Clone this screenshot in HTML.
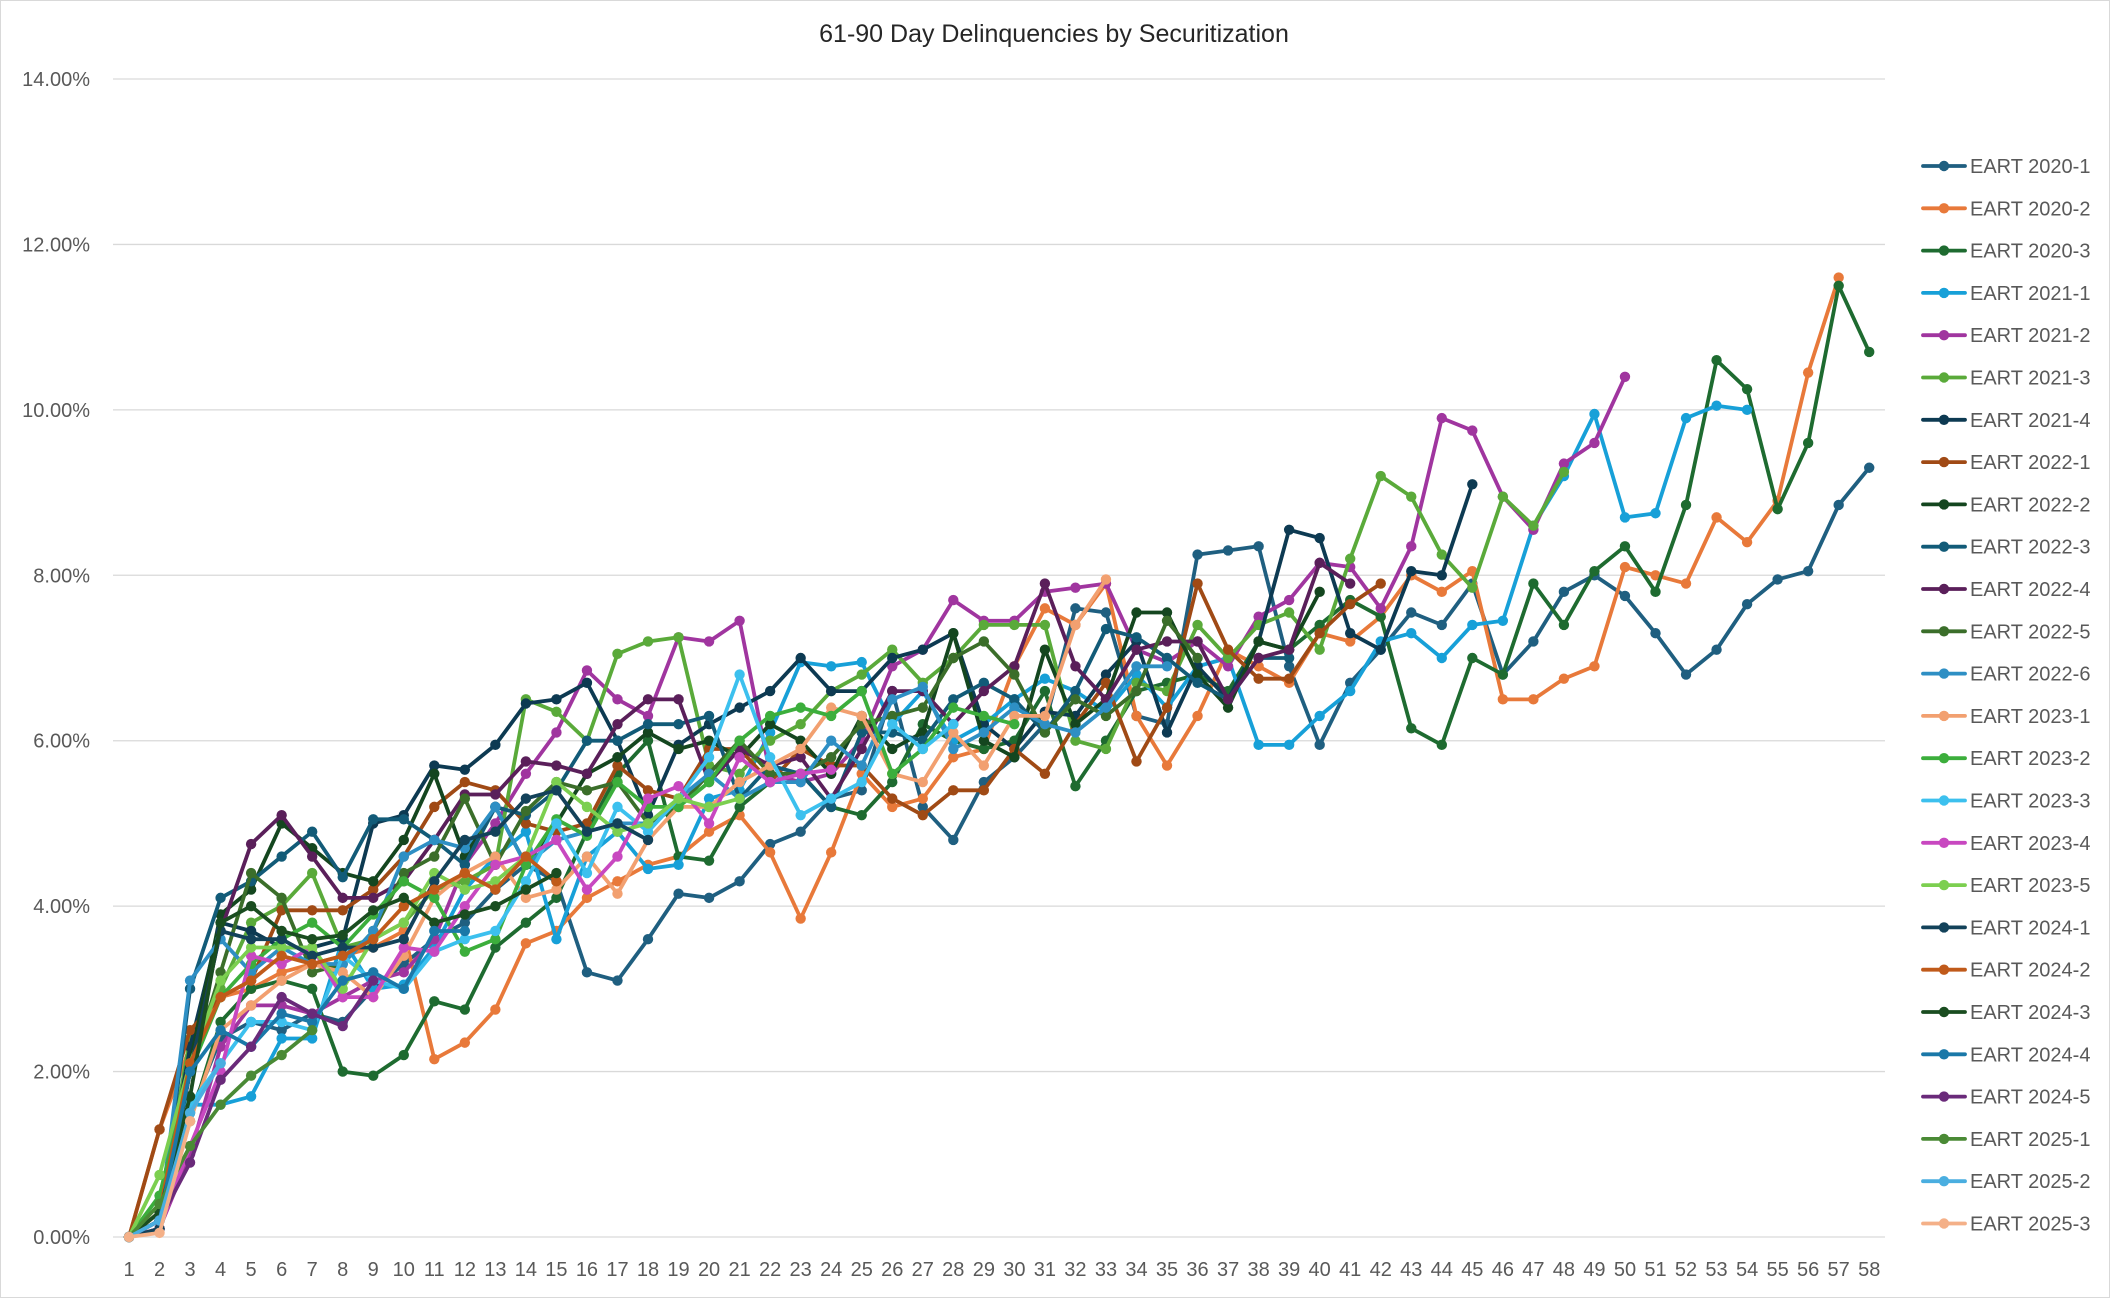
<!DOCTYPE html>
<html><head><meta charset="utf-8">
<style>
html,body{margin:0;padding:0;background:#fff;}
body{width:2111px;height:1299px;overflow:hidden;font-family:"Liberation Sans",sans-serif;}
svg text{font-family:"Liberation Sans",sans-serif;}
</style></head>
<body>
<svg id="chart" width="2111" height="1299" xmlns="http://www.w3.org/2000/svg">
<rect x="0.5" y="0.5" width="2109" height="1297" fill="#fff" stroke="#d9d9d9"/>
<text x="1054" y="42" text-anchor="middle" font-size="25" fill="#262626">61-90 Day Delinquencies by Securitization</text>
<g id="grid"></g>
<g id="yaxis"></g>
<g id="xaxis"></g>
<g id="series"></g>
<g id="legend"></g>
</svg>
<script>
const xLabels = Array.from({length:58},(_,i)=>String(i+1));
const yTicks = [0,2,4,6,8,10,12,14];
const yTickLabels = ["0.00%","2.00%","4.00%","6.00%","8.00%","10.00%","12.00%","14.00%"];
const seriesNames = ["EART 2020-1","EART 2020-2","EART 2020-3","EART 2021-1","EART 2021-2","EART 2021-3","EART 2021-4","EART 2022-1","EART 2022-2","EART 2022-3","EART 2022-4","EART 2022-5","EART 2022-6","EART 2023-1","EART 2023-2","EART 2023-3","EART 2023-4","EART 2023-5","EART 2024-1","EART 2024-2","EART 2024-3","EART 2024-4","EART 2024-5","EART 2025-1","EART 2025-2","EART 2025-3"];
const seriesColors = ["#1f5f80","#e8793a","#1e6b30","#17a0d8","#a0359f","#5aaa3a","#0d3a52","#a04a15","#14461f","#125b78","#5a1f5a","#3b6e2a","#2e8fc4","#f2a070","#3cae3c","#3cc0ee","#c848c0","#7ccf50","#13425a","#c05a1a","#1a4d20","#1a78a8","#6a2a7a","#4a8a35","#4aaee0","#f4b088"];
const s2020_1 = [0,0.2,1.5,2.4,2.6,2.5,2.7,2.6,3.0,3.3,3.6,3.8,4.2,4.5,4.3,3.2,3.1,3.6,4.15,4.1,4.3,4.75,4.9,5.3,5.4,6.6,5.2,4.8,5.5,5.8,6.2,7.6,7.55,6.3,6.2,8.25,8.3,8.35,6.9,5.95,6.7,7.1,7.55,7.4,7.9,6.8,7.2,7.8,8.0,7.75,7.3,6.8,7.1,7.65,7.95,8.05,8.85,9.3];
const s2020_2 = [0,1.3,2.3,2.9,3.0,3.2,3.3,3.4,3.5,3.7,2.15,2.35,2.75,3.55,3.7,4.1,4.3,4.5,4.6,4.9,5.1,4.65,3.85,4.65,5.6,5.2,5.3,5.8,5.9,6.9,7.6,7.4,7.9,6.3,5.7,6.3,7.1,6.9,6.7,7.3,7.2,7.5,8.0,7.8,8.05,6.5,6.5,6.75,6.9,8.1,8.0,7.9,8.7,8.4,8.9,10.45,11.6];
const s2020_3 = [0,0.2,1.4,2.6,3.0,3.1,3.0,2.0,1.95,2.2,2.85,2.75,3.5,3.8,4.1,4.9,5.6,6.0,4.6,4.55,5.2,5.5,5.6,5.2,5.1,5.5,6.2,6.0,5.9,6.0,6.6,5.45,6.0,6.6,6.7,6.8,6.6,7.2,7.1,7.4,7.7,7.5,6.15,5.95,7.0,6.8,7.9,7.4,8.05,8.35,7.8,8.85,10.6,10.25,8.8,9.6,11.5,10.7];
const s2021_1 = [0,0.1,1.6,1.6,1.7,2.4,2.4,3.6,3.0,3.05,3.5,4.2,4.6,4.9,3.6,4.6,4.9,4.45,4.5,5.3,5.4,6.1,6.95,6.9,6.95,6.2,6.6,6.0,6.2,6.5,6.75,6.6,6.35,6.8,6.4,6.9,7.0,5.95,5.95,6.3,6.6,7.2,7.3,7.0,7.4,7.45,8.6,9.2,9.95,8.7,8.75,9.9,10.05,10.0];
const s2021_2 = [0,0.1,1.0,2.3,2.8,2.8,2.7,2.9,3.1,3.2,3.6,4.5,5.0,5.6,6.1,6.85,6.5,6.3,7.25,7.2,7.45,5.6,5.5,5.6,6.0,6.9,7.1,7.7,7.45,7.45,7.8,7.85,7.9,7.1,6.95,7.2,6.9,7.5,7.7,8.15,8.1,7.6,8.35,9.9,9.75,8.95,8.55,9.35,9.6,10.4];
const s2021_3 = [0,0.3,2.4,3.0,3.8,4.0,4.4,3.5,3.6,3.8,4.2,4.3,4.5,6.5,6.35,6.0,7.05,7.2,7.25,5.7,5.6,6.0,6.2,6.6,6.8,7.1,6.7,7.0,7.4,7.4,7.4,6.0,5.9,6.7,6.6,7.4,7.0,7.4,7.55,7.1,8.2,9.2,8.95,8.25,7.85,8.95,8.6,9.25];
const s2021_4 = [0,0.2,2.3,3.8,3.7,3.5,3.5,3.6,5.0,5.1,5.7,5.65,5.95,6.45,6.5,6.7,6.0,5.1,5.95,6.2,6.4,6.6,7.0,6.6,6.6,7.0,7.1,7.3,6.2,5.9,6.35,6.3,6.8,7.2,6.1,6.9,6.5,7.2,8.55,8.45,7.3,7.1,8.05,8.0,9.1];
const s2022_1 = [0,1.3,2.5,2.9,3.1,3.95,3.95,3.95,4.2,4.6,5.2,5.5,5.4,5.0,4.9,5.0,5.7,5.4,5.3,5.9,5.9,5.5,5.9,5.7,5.7,5.3,5.1,5.4,5.4,5.9,5.6,6.2,6.7,5.75,6.4,7.9,7.1,6.75,6.75,7.3,7.65,7.9];
const s2022_2 = [0,0.2,2.1,3.9,4.2,5.0,4.7,4.4,4.3,4.8,5.6,4.6,5.2,4.5,5.0,5.6,5.8,6.1,5.9,6.0,5.8,6.2,6.0,5.6,6.3,5.9,6.1,7.3,6.0,5.8,7.1,6.2,6.5,7.55,7.55,6.8,6.4,7.2,7.1,7.8];
const s2022_3 = [0,0.1,3.0,4.1,4.3,4.6,4.9,4.35,5.05,5.05,4.8,4.5,5.2,5.1,5.4,6.0,6.0,6.2,6.2,6.3,5.3,5.7,5.6,5.2,6.1,6.1,6.0,6.5,6.7,6.5,6.1,6.6,7.35,7.25,7.0,6.7,6.5,7.0,7.0];
const s2022_4 = [0,0.1,2.0,3.7,4.75,5.1,4.6,4.1,4.1,4.3,4.8,5.35,5.35,5.75,5.7,5.6,6.2,6.5,6.5,5.5,5.9,5.7,5.8,5.3,5.9,6.6,6.6,6.2,6.6,6.9,7.9,6.9,6.5,7.1,7.2,7.2,6.5,7.0,7.1,8.15,7.9];
const s2022_5 = [0,0.2,2.0,3.2,4.4,4.1,3.2,3.3,3.7,4.4,4.6,5.3,4.5,5.15,5.5,5.4,5.5,5.0,5.2,5.6,6.0,5.6,5.6,5.8,6.2,6.3,6.4,7.0,7.2,6.8,6.1,6.5,6.3,6.6,7.45,7.0];
const s2022_6 = [0,0.2,3.1,3.6,3.2,3.5,3.3,3.3,3.7,4.6,4.8,4.7,5.2,4.5,4.8,4.9,5.0,5.0,5.3,5.6,5.3,5.5,5.5,6.0,5.7,6.5,6.65,5.9,6.1,6.4,6.2,6.1,6.4,6.9,6.9];
const s2023_1 = [0,0.1,1.4,2.5,2.8,3.1,3.3,3.2,2.9,3.4,4.1,4.4,4.6,4.1,4.2,4.6,4.15,4.8,5.2,5.2,5.5,5.7,5.9,6.4,6.3,5.6,5.5,6.1,5.7,6.3,6.3,7.4,7.95];
const s2023_2 = [0,0.5,2.0,2.9,3.3,3.6,3.8,3.5,3.9,4.3,4.1,3.45,3.6,4.5,5.05,4.85,5.5,5.2,5.2,5.5,6.0,6.3,6.4,6.3,6.6,5.6,5.9,6.4,6.3,6.2];
const s2023_3 = [0,0.2,1.6,2.1,2.6,2.6,2.5,3.4,3.1,3.0,3.45,3.6,3.7,4.3,5.0,4.4,5.2,4.9,5.3,5.8,6.8,5.8,5.1,5.3,5.5,6.2,5.9,6.2];
const s2023_4 = [0,0.1,1.1,2.0,3.4,3.3,3.5,2.9,2.9,3.5,3.45,4.0,4.5,4.6,4.8,4.2,4.6,5.3,5.45,5.0,5.8,5.5,5.6,5.65];
const s2023_5 = [0,0.75,2.1,3.1,3.5,3.5,3.5,3.0,3.6,3.8,4.4,4.2,4.3,4.6,5.5,5.2,4.9,5.0,5.3,5.2,5.3];
const s2024_1 = [0,0.1,2.0,3.7,3.6,3.6,3.4,3.5,3.5,3.6,4.3,4.8,4.9,5.3,5.4,4.9,5.0,4.8];
const s2024_2 = [0,0.3,2.1,2.9,3.1,3.4,3.3,3.4,3.6,4.0,4.2,4.4,4.2,4.6,4.3];
const s2024_3 = [0,0.3,1.7,3.8,4.0,3.7,3.6,3.65,3.95,4.1,3.8,3.9,4.0,4.2,4.4];
const s2024_4 = [0,0.2,2.0,2.5,2.3,2.7,2.6,3.1,3.2,3.0,3.7,3.7];
const s2024_5 = [0,0.2,0.9,1.9,2.3,2.9,2.7,2.55,3.1];
const s2025_1 = [0,0.4,1.1,1.6,1.95,2.2,2.5];
const s2025_2 = [0,0.2,1.5,2.1];
const s2025_3 = [0,0.05,1.4];
const seriesValues = [s2020_1,s2020_2,s2020_3,s2021_1,s2021_2,s2021_3,s2021_4,s2022_1,s2022_2,s2022_3,s2022_4,s2022_5,s2022_6,s2023_1,s2023_2,s2023_3,s2023_4,s2023_5,s2024_1,s2024_2,s2024_3,s2024_4,s2024_5,s2025_1,s2025_2,s2025_3];

const NS="http://www.w3.org/2000/svg";
const plotL=113, plotR=1885, yTop=79, yBot=1237, x0=129, xStep=30.53, yMax=14;
function xScale(i){return x0+i*xStep;}
function yScale(v){return yBot-(v/yMax)*(yBot-yTop);}
function mk(tag,attrs,parent){const e=document.createElementNS(NS,tag);for(const k in attrs)e.setAttribute(k,attrs[k]);parent.appendChild(e);return e;}

const grid=document.getElementById('grid'), ya=document.getElementById('yaxis'), xa=document.getElementById('xaxis');
yTicks.forEach((t,i)=>{
  const l=mk('line',{x1:plotL,x2:plotR,y1:yScale(t),y2:yScale(t),stroke:'#d9d9d9','stroke-width':1.3},grid);
  
  
  const tx=mk('text',{x:90,y:yScale(t)+7,'text-anchor':'end','font-size':20,fill:'#595959'},ya);
  tx.textContent=yTickLabels[i];
  
  
});
xLabels.forEach((lab,i)=>{
  const tx=mk('text',{x:xScale(i),y:1276,'text-anchor':'middle','font-size':20,fill:'#595959'},xa);
  tx.textContent=lab;
  
  
});
const sg=document.getElementById('series'), lg=document.getElementById('legend');
seriesValues.forEach((vals,si)=>{
  const g=mk('g',{},sg);
  
  
  const pts=vals.map((v,i)=>xScale(i).toFixed(1)+','+yScale(v).toFixed(1)).join(' ');
  const pl=mk('polyline',{points:pts,fill:'none',stroke:seriesColors[si],'stroke-width':3.8,'stroke-linejoin':'round','stroke-linecap':'round'},g);
  
  
  vals.forEach((v,i)=>{
    const c=mk('circle',{cx:xScale(i),cy:yScale(v),r:5.2,fill:seriesColors[si]},g);
    
    
  });
  const ly=166+si*42.3;
  const le=mk('g',{},lg);
  
  
  mk('line',{x1:1923,x2:1965,y1:ly,y2:ly,stroke:seriesColors[si],'stroke-width':3.8,'stroke-linecap':'round'},le);
  mk('circle',{cx:1944,cy:ly,r:5.2,fill:seriesColors[si]},le);
  const lt=mk('text',{x:1970,y:ly+7,'font-size':20,fill:'#595959'},le);
  lt.textContent=seriesNames[si];
  
  
});
</script>
</body></html>
